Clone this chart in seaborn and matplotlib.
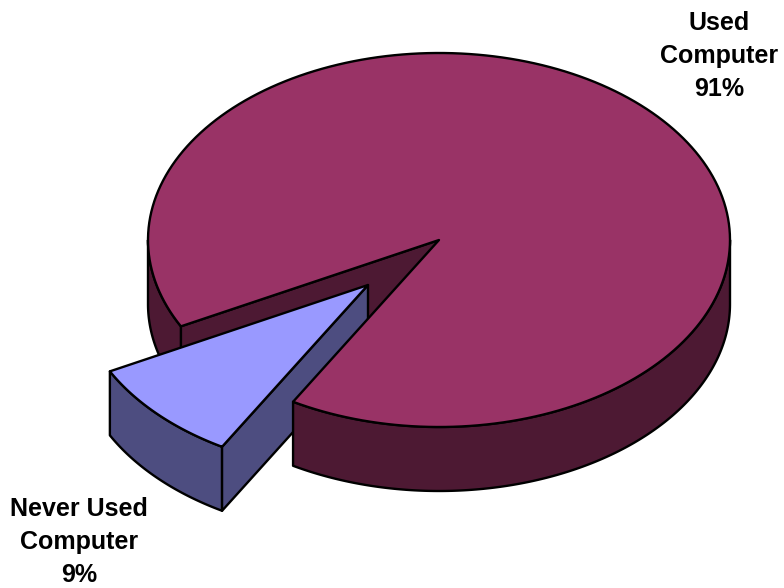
import numpy as np
import matplotlib
matplotlib.use("Agg")
import matplotlib.pyplot as plt
import seaborn as sns

# ==========================
# DATA
# ==========================
categories = ["Used\nComputer", "Never Used\nComputer"]
percents = [91, 9]
top_colors = ["#993366", "#9999FF"]
side_colors = ["#4D1933", "#4D4D80"]

# ==========================
# PIE GEOMETRY (pixels of the figure)
# ==========================
CX, CY = 439, 240
RX, RY = 291, 187
DEPTH = 64
EXPLODE = (-71, 45)
SLICE_START = 207.5  # where the small slice begins, degrees
LW = 1.7


def rim_xy(a1, a2, dx=0, dy=0):
    t = np.radians(np.linspace(a1, a2, 200))
    return CX + dx + RX * np.cos(t), CY + dy - RY * np.sin(t)


def wedge(ax, a1, a2, dx, dy, color):
    x, y = rim_xy(a1, a2, dx, dy)
    ax.fill(np.r_[CX + dx, x], np.r_[CY + dy, y], fc=color, ec="black", lw=LW, joinstyle="round")


def rim(ax, a1, a2, dx, dy, color):
    x, y = rim_xy(a1, a2, dx, dy)
    ax.fill(np.r_[x, x[::-1]], np.r_[y, y[::-1] + DEPTH], fc=color, ec="black", lw=LW, joinstyle="round")


def cut_face(ax, a, dx, dy, color):
    x, y = rim_xy(a, a, dx, dy)
    ax.fill([CX + dx, x[0], x[0], CX + dx], [CY + dy, y[0], y[0] + DEPTH, CY + dy + DEPTH],
            fc=color, ec="black", lw=LW, joinstyle="round")


# ==========================
# DRAW
# ==========================
sns.set_theme(style="white")
plt.rcParams["font.family"] = ["Liberation Sans", "DejaVu Sans"]

fig = plt.figure(figsize=(7.84, 5.88), dpi=100)
ax = fig.add_axes([0, 0, 1, 1])
ax.set_xlim(0, 784)
ax.set_ylim(588, 0)
ax.axis("off")

small_sweep = percents[1] / sum(percents) * 360
slice_end = SLICE_START + small_sweep
dx, dy = EXPLODE

# back parts of the big slice
cut_face(ax, SLICE_START, 0, 0, side_colors[0])
rim(ax, 180, SLICE_START, 0, 0, side_colors[0])

# small exploded slice
rim(ax, SLICE_START, slice_end, dx, dy, side_colors[1])
cut_face(ax, slice_end, dx, dy, side_colors[1])
wedge(ax, SLICE_START, slice_end, dx, dy, top_colors[1])

# front of the big slice goes over the small slice wall
rim(ax, slice_end, 360, 0, 0, side_colors[0])
wedge(ax, slice_end, SLICE_START + 360, 0, 0, top_colors[0])

# labels
label_pos = [(719, 56), (79, 542)]
for name, pct, (lx, ly) in zip(categories, percents, label_pos):
    ax.text(lx, ly, f"{name}\n{pct}%", ha="center", va="center", fontsize=18,
            fontweight="bold", color="black", linespacing=1.5)

fig.savefig("out.png", dpi=100)
